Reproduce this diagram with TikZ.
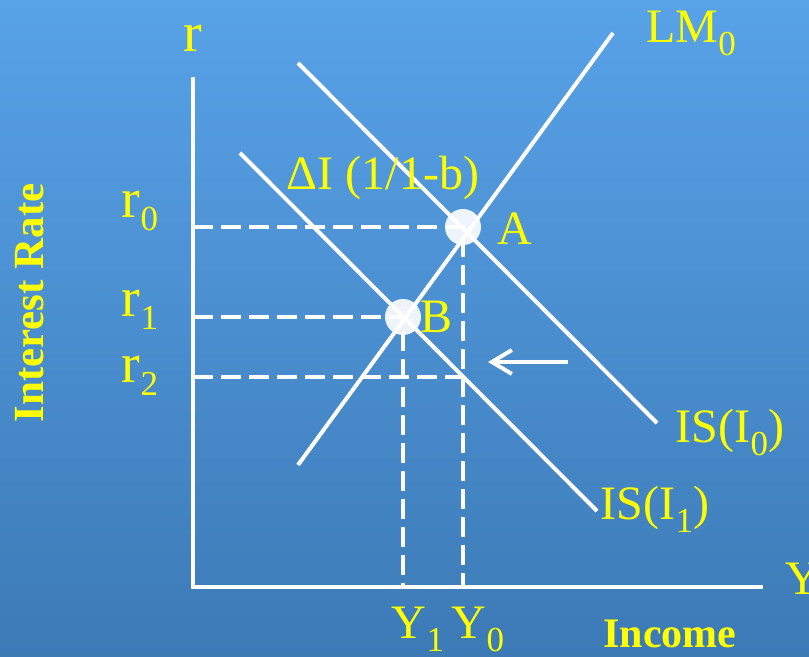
\documentclass[tikz,border=0pt]{standalone}
\usepackage{fontspec}
\setmainfont{Liberation Serif}
\usetikzlibrary{arrows.meta,calc}
\definecolor{sky}{RGB}{88,162,232}
\definecolor{deep}{RGB}{60,122,182}
\definecolor{lemon}{HTML}{FFFF00}
\newcommand{\lowsub}[1]{\raisebox{-6.5pt}{\fontsize{17.5}{18}\selectfont #1}}

\begin{document}
\begin{tikzpicture}[x=0.5pt,y=-0.5pt,
  curve/.style={white,line width=2pt},
  guide/.style={white,line width=2pt,dash pattern=on 10pt off 4pt},
  lbl/.style={lemon,font=\fontsize{24}{26}\selectfont,inner sep=0pt,anchor=base},
  rlbl/.style={lbl,font=\fontsize{28}{30}\selectfont},
  dot/.style={circle,fill=white,fill opacity=0.9,minimum size=18pt,inner sep=0pt}]
  \useasboundingbox (0,0) rectangle (809,657);
  \shade[top color=sky,bottom color=deep] (0,0) rectangle (809,657);
  \clip (0,0) rectangle (809,657);

  % Points
  \coordinate (O) at (193,587);
  \coordinate (rtop) at (193,77);
  \coordinate (Yend) at (763,587);
  \coordinate (r0) at (193,227);
  \coordinate (r1) at (193,317);
  \coordinate (r2) at (193,377);
  \coordinate (is0a) at (298,63);
  \coordinate (is0b) at (657,423);
  \coordinate (is1a) at (240,153);
  \coordinate (is1b) at (597,511);
  \coordinate (lma) at (298,465);
  \coordinate (lmb) at (613,33);
  \coordinate (shiftS) at (568,362);
  \coordinate (shiftE) at (488,362);

  % Dashed guides
  \draw[guide] (r2) -- (463,377);
  \draw[guide] (r0) -- (463,227) -- (463,587);
  \draw[guide] (r1) -- (403,317) -- (403,587);

  % IS curves
  \draw[curve] (is0a) -- (is0b);
  \draw[curve] (is1a) -- (is1b);

  % Equilibria
  \node[dot] (A) at (463,227) {};
  \node[dot] (B) at (403,317) {};

  % LM curve
  \draw[curve] (lma) -- (lmb);

  % Axes
  \draw[curve] (rtop) -- (O) -- (Yend);

  % Shift arrow
  \draw[curve,-{Straight Barb[length=10pt,width=12pt]}] (shiftS) -- (shiftE);

  % Labels
  \node[rlbl] (rlab) at (193,52) {r};
  \node[rlbl] (r0lab) at (140,218) {r\lowsub{0}};
  \node[rlbl] (r1lab) at (140,317) {r\lowsub{1}};
  \node[rlbl] (r2lab) at (140,383) {r\lowsub{2}};
  \node[lemon,font=\fontsize{21.5}{23}\selectfont\bfseries,rotate=90] (rate) at (30,303) {Interest Rate};
  \node[lbl] (dI) at (383,190) {ΔI (1/1-b)};
  \node[lbl] (Alab) at (515,245) {A};
  \node[lbl] (Blab) at (437,333) {B};
  \node[lbl] (LMlab) at (691,43) {LM\lowsub{0}};
  \node[lbl] (IS0lab) at (730,443) {IS(I\lowsub{0})};
  \node[lbl] (IS1lab) at (655,520) {IS(I\lowsub{1})};
  \node[lbl] (Y1lab) at (418,639) {Y\lowsub{1}};
  \node[lbl] (Y0lab) at (478,639) {Y\lowsub{0}};
  \node[lbl,font=\fontsize{21}{22}\selectfont\bfseries] (inc) at (670,647) {Income};
  \node[lbl,anchor=base west] (Ylab) at (785,595) {Y};
\end{tikzpicture}
\end{document}
